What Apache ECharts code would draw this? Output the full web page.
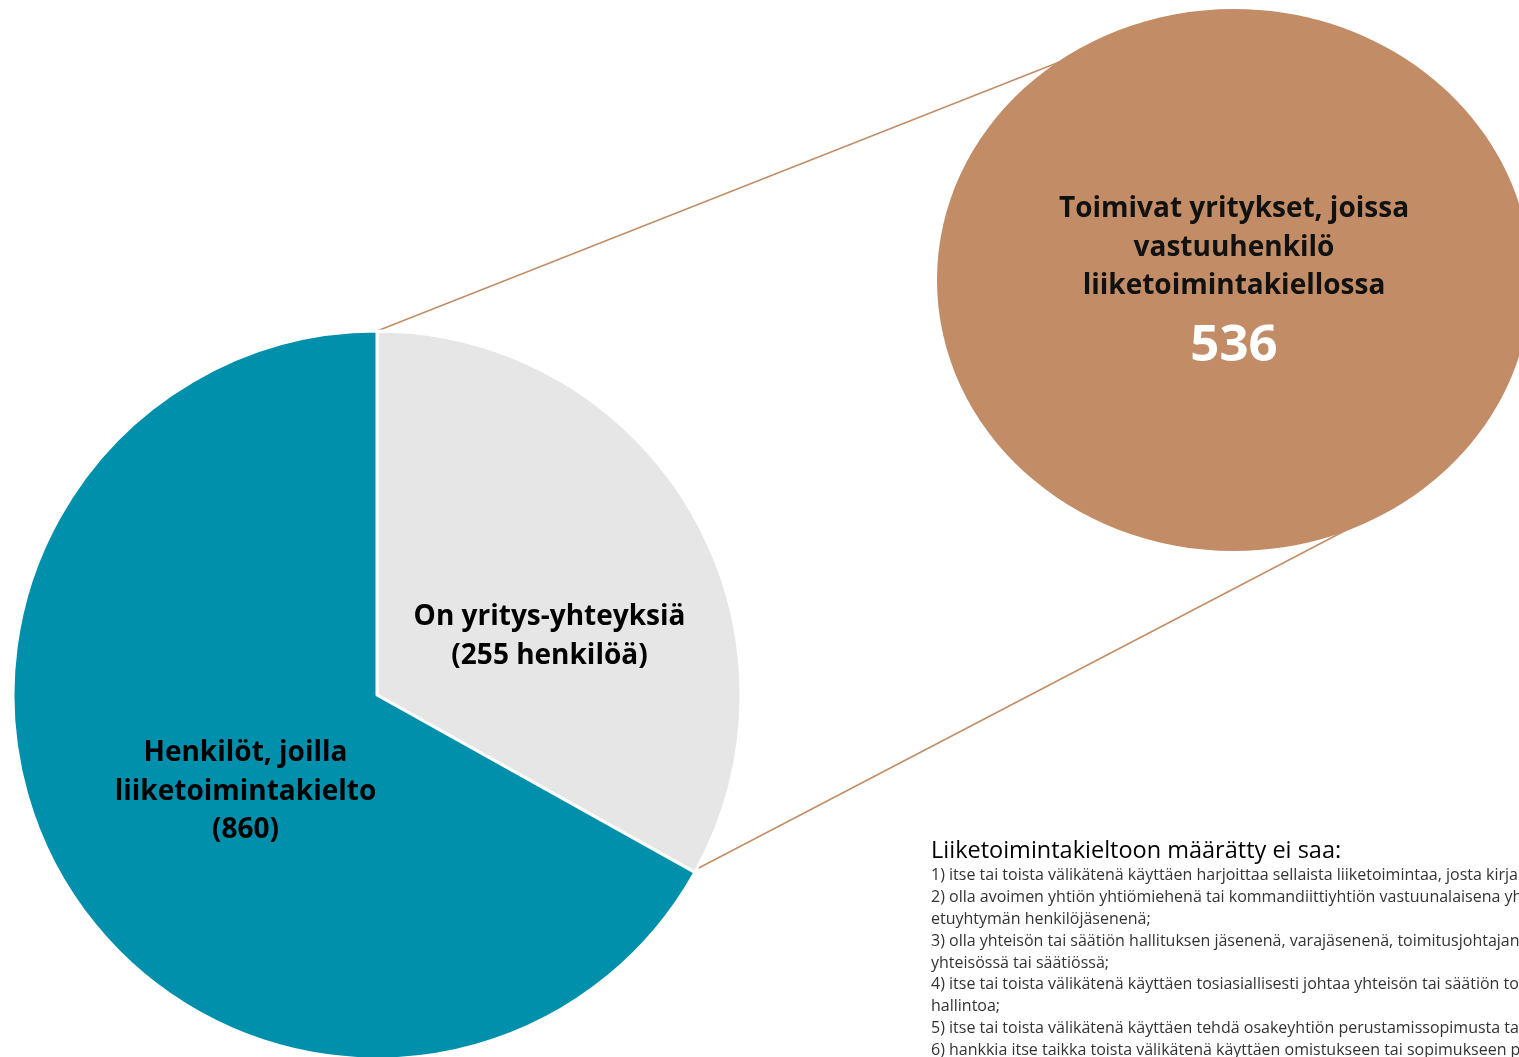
<!DOCTYPE html>
<html>
<head>
<meta charset="utf-8">
<script src="https://cdn.jsdelivr.net/npm/echarts@6/dist/echarts.min.js"></script>
<style>
  html, body { margin: 0; padding: 0; background: #fff; overflow: hidden; }
  #chart { width: 1519px; height: 1057px; }
</style>
</head>
<body>
<div id="chart"></div>
<script>
// osuudet luettu kuvasta (sektorin kulma), nimet ja luvut tekstistä
const sliceNames = ['On yritys-yhteyksiä\n(255 henkilöä)', 'Henkilöt, joilla\nliiketoimintakielto\n(860)'];
const sliceShares = [33.1, 66.9];
const sliceColors = ['#E6E6E6', '#0090AC'];

const bubbleTitle = 'Toimivat yritykset, joissa\nvastuuhenkilö\nliiketoimintakiellossa';
const bubbleValue = '536';

const noteTitle = 'Liiketoimintakieltoon määrätty ei saa:';
const noteLines = [
    '1) itse tai toista välikätenä käyttäen harjoittaa sellaista liiketoimintaa, josta kirjanpitolain mukaan on pidettävä kirjanpitoa;',
    '2) olla avoimen yhtiön yhtiömiehenä tai kommandiittiyhtiön vastuunalaisena yhtiömiehenä eikä eurooppalaisen taloudellisen',
    'etuyhtymän henkilöjäsenenä;',
    '3) olla yhteisön tai säätiön hallituksen jäsenenä, varajäsenenä, toimitusjohtajana tai muussa siihen rinnastettavassa asemassa',
    'yhteisössä tai säätiössä;',
    '4) itse tai toista välikätenä käyttäen tosiasiallisesti johtaa yhteisön tai säätiön toimintaa tai osallistua sen',
    'hallintoa;',
    '5) itse tai toista välikätenä käyttäen tehdä osakeyhtiön perustamissopimusta tai olla säätiön perustajana;',
    '6) hankkia itse taikka toista välikätenä käyttäen omistukseen tai sopimukseen perustuvaa määräysvaltaa'
];

const font = '"Open Sans", "Noto Sans", sans-serif';
const brown = '#C28D66';

const chart = echarts.init(document.getElementById('chart'), null, { renderer: 'canvas' });

const labelShift = [[13, 35], [28, 3]];

const option = {
    animation: false,
    backgroundColor: '#fff',
    graphic: [
        { type: 'line', z: 1, shape: { x1: 377, y1: 331, x2: 1100, y2: 46 }, style: { stroke: brown, lineWidth: 1.5 } },
        { type: 'line', z: 1, shape: { x1: 693, y1: 871, x2: 1400, y2: 502 }, style: { stroke: brown, lineWidth: 1.5 } },
        { type: 'ellipse', z: 2, shape: { cx: 1234, cy: 280, rx: 297, ry: 271 }, style: { fill: brown } },
        {
            type: 'text', z: 3, left: 1234 - 200, top: 190,
            style: {
                text: bubbleTitle, width: 400, align: 'center', textAlign: 'center', x: 200,
                font: 'bold 28px ' + font, lineHeight: 38.5, fill: '#111'
            }
        },
        {
            type: 'text', z: 3, x: 1234, y: 346,
            style: {
                text: bubbleValue, textAlign: 'center', textVerticalAlign: 'middle',
                font: 'bold 51px ' + font, fill: '#fff'
            }
        },
        {
            type: 'text', z: 3, x: 931, y: 851,
            style: { text: noteTitle, textVerticalAlign: 'middle', font: '23.5px ' + font, fill: '#000' }
        },
        {
            type: 'text', z: 3, x: 931, y: 865,
            style: { text: noteLines.join('\n'), font: '16px ' + font, lineHeight: 21.8, fill: '#333' }
        }
    ],
    series: [{
        type: 'pie',
        center: [377, 695],
        radius: 364,
        startAngle: 90,
        clockwise: true,
        z: 2,
        itemStyle: { borderColor: '#fff', borderWidth: 3 },
        labelLine: { show: false },
        labelLayout: params => ({ dx: labelShift[params.dataIndex][0], dy: labelShift[params.dataIndex][1] }),
        emphasis: { disabled: true },
        data: sliceNames.map((n, i) => ({ name: n, value: sliceShares[i], itemStyle: { color: sliceColors[i] } })),
        label: {
            show: true, position: 'inside', color: '#000', formatter: '{b}',
            fontFamily: font, fontWeight: 'bold', fontSize: 28, lineHeight: 38.5
        }
    }]
};

chart.setOption(option);
window.addEventListener('resize', () => chart.resize());
</script>
</body>
</html>
